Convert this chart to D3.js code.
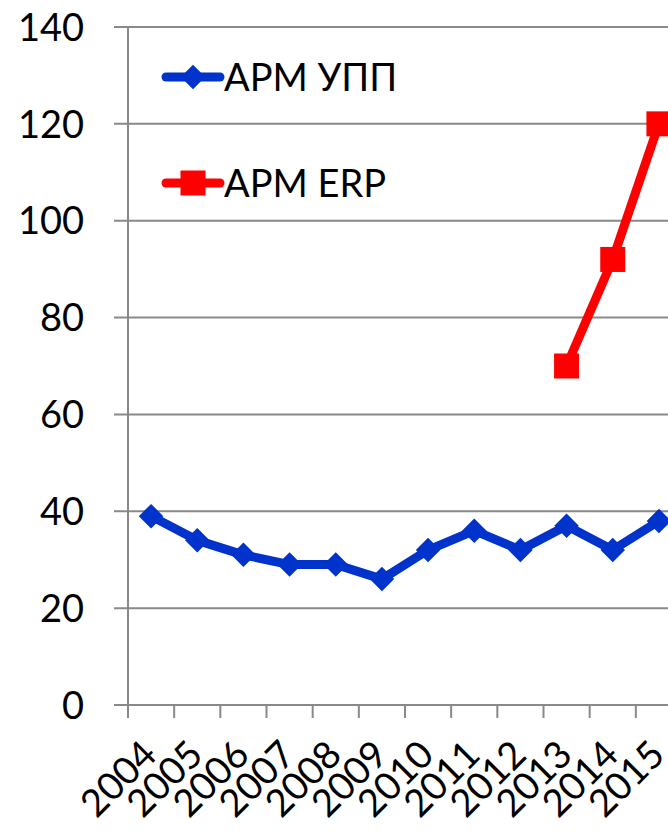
<!DOCTYPE html>
<html>
<head>
<meta charset="utf-8">
<script src="https://cdn.jsdelivr.net/npm/d3@7"></script>
<style>
  body { margin: 0; background: #fff; }
  svg { display: block; font-family: Lato, "Open Sans", sans-serif; }
</style>
</head>
<body>
<div id="chart"></div>
<script>
// categories and series
const years = ["2004", "2005", "2006", "2007", "2008", "2009", "2010", "2011", "2012", "2013", "2014", "2015"];
const upp = [39, 34, 31, 29, 29, 26, 32, 36, 32, 37, 32, 38];
const erpYears = ["2013", "2014", "2015"];
const erp = [70, 92, 120];
const yTicks = [0, 20, 40, 60, 80, 100, 120, 140];
const seriesNames = ["АРМ УПП", "АРМ ERP"];

const W = 668, H = 834;
// plot area runs past the right edge (cropped like the original)
const margin = { top: 27, left: 128 },
    plotRight = 682,
    plotBottom = 705;

const svg = d3.select("#chart").append("svg")
    .attr("width", W)
    .attr("height", H);

const x = d3.scaleBand()
    .domain(years)
    .range([margin.left, plotRight]);

const y = d3.scaleLinear()
    .domain([0, 140])
    .range([plotBottom, margin.top]);

// gridlines
svg.append("g")
    .selectAll("line")
    .data(yTicks)
    .enter().append("line")
    .attr("x1", margin.left - 14)
    .attr("x2", plotRight)
    .attr("y1", d => y(d))
    .attr("y2", d => y(d))
    .attr("stroke", "#898989")
    .attr("stroke-width", 2);

// y axis line
svg.append("line")
    .attr("x1", margin.left).attr("x2", margin.left)
    .attr("y1", margin.top).attr("y2", plotBottom + 13)
    .attr("stroke", "#898989")
    .attr("stroke-width", 2);

// y labels
svg.append("g")
    .selectAll("text")
    .data(yTicks)
    .enter().append("text")
    .attr("x", 84)
    .attr("y", d => y(d))
    .attr("dy", "0.36em")
    .attr("text-anchor", "end")
    .attr("font-size", 38)
    .text(d => d);

// x ticks (at band edges)
const edges = years.map(d => x(d)).concat([plotRight]);
svg.append("g")
    .selectAll("line")
    .data(edges)
    .enter().append("line")
    .attr("x1", d => d).attr("x2", d => d)
    .attr("y1", plotBottom).attr("y2", plotBottom + 13)
    .attr("stroke", "#898989")
    .attr("stroke-width", 2);

// x labels, rotated
svg.append("g")
    .selectAll("text")
    .data(years)
    .enter().append("text")
    .attr("transform", d => "translate(" + (x(d) + x.bandwidth() / 2 - 11) + "," + (plotBottom + 33) + ") rotate(-45)")
    .attr("text-anchor", "end")
    .attr("dy", "0.7em")
    .attr("font-size", 38)
    .text(d => d);

const line = d3.line()
    .x(d => x(d.year) + x.bandwidth() / 2)
    .y(d => y(d.value));

const uppData = years.map((d, i) => ({ year: d, value: upp[i] }));
const erpData = erpYears.map((d, i) => ({ year: d, value: erp[i] }));

const blue = "#0033CC", red = "#FF0000";
const diamond = d3.symbol().type(d3.symbolSquare).size(300);

svg.append("path")
    .datum(uppData)
    .attr("d", line)
    .attr("fill", "none")
    .attr("stroke", blue)
    .attr("stroke-width", 9)
    .attr("stroke-linejoin", "round");

svg.append("g")
    .selectAll("path")
    .data(uppData)
    .enter().append("path")
    .attr("d", diamond)
    .attr("transform", d => "translate(" + (x(d.year) + x.bandwidth() / 2) + "," + y(d.value) + ") rotate(45)")
    .attr("fill", blue);

svg.append("path")
    .datum(erpData)
    .attr("d", line)
    .attr("fill", "none")
    .attr("stroke", red)
    .attr("stroke-width", 9)
    .attr("stroke-linejoin", "round");

svg.append("g")
    .selectAll("rect")
    .data(erpData)
    .enter().append("rect")
    .attr("x", d => x(d.year) + x.bandwidth() / 2 - 12.5)
    .attr("y", d => y(d.value) - 12.5)
    .attr("width", 25)
    .attr("height", 25)
    .attr("fill", red);

// legend
const legend = svg.append("g");
const legendRows = [
    { name: seriesNames[0], color: blue, ly: 77, mark: "diamond" },
    { name: seriesNames[1], color: red, ly: 183, mark: "square" }
];
legendRows.forEach(r => {
    legend.append("line")
        .attr("x1", 166).attr("x2", 220)
        .attr("y1", r.ly).attr("y2", r.ly)
        .attr("stroke", r.color)
        .attr("stroke-width", 9)
        .attr("stroke-linecap", "round");
    if (r.mark === "diamond") {
        legend.append("path")
            .attr("d", diamond)
            .attr("transform", "translate(193," + r.ly + ") rotate(45)")
            .attr("fill", r.color);
    } else {
        legend.append("rect")
            .attr("x", 180.5).attr("y", r.ly - 12.5)
            .attr("width", 25).attr("height", 25)
            .attr("fill", r.color);
    }
    legend.append("text")
        .attr("x", 224)
        .attr("y", r.ly)
        .attr("dy", "0.36em")
        .attr("font-size", 38)
        .text(r.name);
});
</script>
</body>
</html>
